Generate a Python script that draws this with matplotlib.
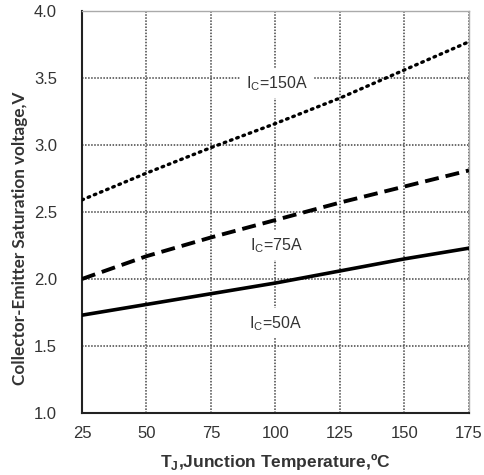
import matplotlib
matplotlib.use("Agg")
import matplotlib.pyplot as plt

plt.rcParams['font.family'] = ['Liberation Sans', 'DejaVu Sans']

temps = [25, 50, 75, 100, 125, 150, 175]
vce_150A = [2.59, 2.79, 2.98, 3.16, 3.35, 3.56, 3.77]
vce_75A = [2.00, 2.17, 2.31, 2.44, 2.57, 2.69, 2.81]
vce_50A = [1.73, 1.81, 1.89, 1.97, 2.06, 2.15, 2.23]
x_ticks = [25, 50, 75, 100, 125, 150, 175]
y_ticks = [1.0, 1.5, 2.0, 2.5, 3.0, 3.5, 4.0]

fig = plt.figure(figsize=(4.85, 4.75), dpi=100)
ax = fig.add_axes([0.169, 0.1305, 0.798, 0.8465])

ax.plot(temps, vce_150A, color='black', lw=2.4, linestyle=(0, (0.5, 1.5)), dash_capstyle='round', zorder=3)
ax.plot(temps, vce_75A, color='black', lw=2.8, linestyle=(0, (3.6, 1.8)), zorder=3)
ax.plot(temps, vce_50A, color='black', lw=2.6, linestyle='-', zorder=3)

ax.set_xlim(25, 175)
ax.set_ylim(1.0, 4.0)
ax.set_xticks(x_ticks)
ax.set_yticks(y_ticks)
ax.set_yticklabels([f"{v:.1f}" for v in y_ticks])
ax.grid(True, color='#444444', linestyle=(0, (1, 1)), linewidth=1.1, zorder=1)
ax.tick_params(length=0, labelsize=12, labelcolor='#333333')
ax.tick_params(axis='y', pad=18)
ax.tick_params(axis='x', pad=9)

for s in ['left', 'bottom']:
    ax.spines[s].set_color('#222222')
    ax.spines[s].set_linewidth(1.5)
for s in ['top', 'right']:
    ax.spines[s].set_color('#aaaaaa')
    ax.spines[s].set_linewidth(1.0)

box = dict(facecolor='white', edgecolor='none', boxstyle='square,pad=0.35')
ax.text(100.5, 3.46, r'I$_\mathregular{C}$=150A', ha='center', va='center', fontsize=11.5, color='#333333', bbox=box, zorder=4)
ax.text(100.5, 2.25, r'I$_\mathregular{C}$=75A', ha='center', va='center', fontsize=11.5, color='#333333', bbox=box, zorder=4)
ax.text(100.0, 1.67, r'I$_\mathregular{C}$=50A', ha='center', va='center', fontsize=11.5, color='#333333', bbox=box, zorder=4)

fig.text(0.5 * (82 + 469) / 485 + 0.0, 1 - 462 / 475, r'T$_\mathregular{J}$,Junction Temperature,ºC',
         ha='center', va='center', fontsize=12.5, fontweight='bold', color='#333333')
fig.text(20 / 485, 1 - 238 / 475, 'Collector-Emitter Saturation voltage,V', rotation=90,
         ha='center', va='center', fontsize=12.3, fontweight='bold', color='#333333',
         family=['Lato', 'DejaVu Sans'])

fig.savefig('out.png', dpi=100)
